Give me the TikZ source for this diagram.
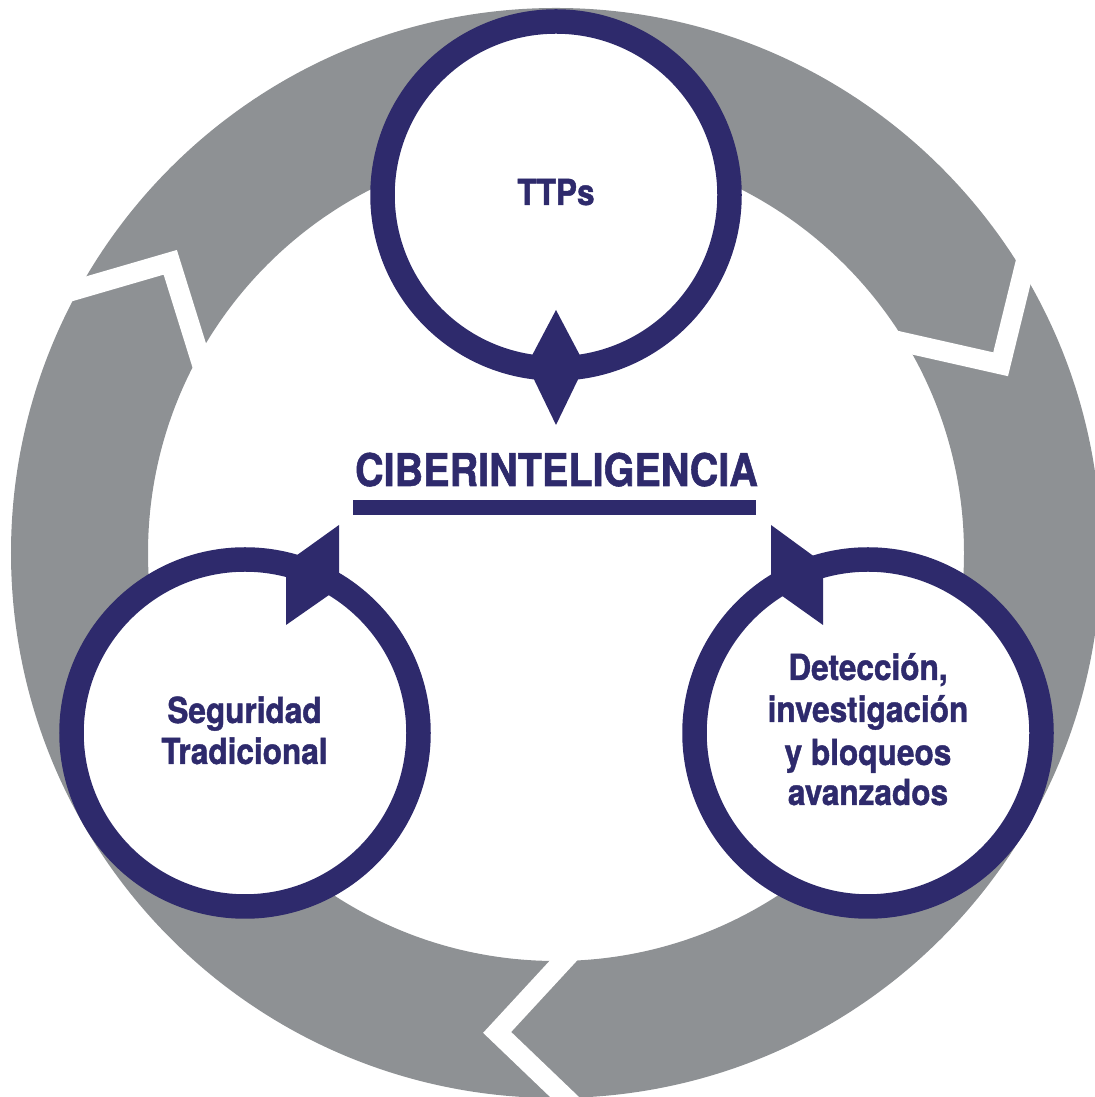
\documentclass[tikz,border=0pt]{standalone}
\usepackage{fontspec}
\newfontfamily\lblfont{TeX Gyre Heros}[FakeStretch=0.88,FakeBold=1.2]
\usetikzlibrary{calc}
\definecolor{navy}{RGB}{46,42,108}
\definecolor{ringgrey}{RGB}{142,145,148}
\begin{document}
\begin{tikzpicture}[
  gapline/.style={draw=white, line width=0.2cm, miter limit=10, line join=miter},
  cyclecircle/.style={circle, draw=navy, line width=0.245cm, fill=white, minimum size=3.47cm, inner sep=0pt},
  marker/.style={fill=navy},
  lbl/.style={text=navy, font=\lblfont\bfseries\fontsize{10.2}{12}\selectfont, inner sep=0pt, anchor=base},
  titlestyle/.style={text=navy, font=\lblfont\bfseries\fontsize{12.8}{14}\selectfont, inner sep=0pt, anchor=base},
]
\useasboundingbox (0,0) rectangle (10.94,10.97);
\coordinate (C) at (5.56,5.44);
% grey cycle ring
\fill[ringgrey, even odd rule] (C) circle[radius=5.45cm] (C) circle[radius=4.08cm];
% chevron gaps
\foreach \a [count=\i] in {23,143,263}{
  \coordinate (v\i) at ($(C)+(\a:4.83)$);
  \coordinate (pi\i) at ($(C)+(\a+8:4.08)$);
  \coordinate (po\i) at ($(C)+(\a+8:5.45)$);
  \draw[gapline] ($(v\i)!1.5!(pi\i)$) -- (v\i) -- ($(v\i)!1.5!(po\i)$);
}
% circles
\node[cyclecircle] (ttp) at (5.56,9.02) {};
\node[cyclecircle] (seg) at (2.45,3.64) {};
\node[cyclecircle] (det) at (8.68,3.64) {};
% markers
\fill[marker] ($(ttp.center)+(0,-1.15)$) -- ($(ttp.center)+(-0.29,-1.70)$) -- ($(ttp.center)+(0,-2.30)$) -- ($(ttp.center)+(0.29,-1.70)$) -- cycle;
\fill[marker] ($(seg.center)+(0.94,2.08)$) -- ($(seg.center)+(0.41,1.70)$) -- ($(seg.center)+(0.41,1.08)$) -- ($(seg.center)+(0.94,1.45)$) -- cycle;
\fill[marker] ($(det.center)+(-0.97,2.08)$) -- ($(det.center)+(-0.45,1.70)$) -- ($(det.center)+(-0.45,1.08)$) -- ($(det.center)+(-0.97,1.45)$) -- cycle;
% labels
\node[lbl] (ttptext) at (5.56,8.92) {TTPs};
\node[lbl] (seg1) at (2.445,3.74) {Seguridad};
\node[lbl] (seg2) at (2.445,3.33) {Tradicional};
\node[lbl] (det1) at (8.68,4.17) {Detección,};
\node[lbl] (det2) at (8.68,3.75) {investigación};
\node[lbl] (det3) at (8.68,3.32) {y bloqueos};
\node[lbl] (det4) at (8.68,2.92) {avanzados};
% title
\node[titlestyle] (title) at (5.565,6.11) {CIBERINTELIGENCIA};
\node[fill=navy, minimum width=4.03cm, minimum height=0.15cm, inner sep=0pt] (bar) at (5.545,5.895) {};
\end{tikzpicture}
\end{document}
